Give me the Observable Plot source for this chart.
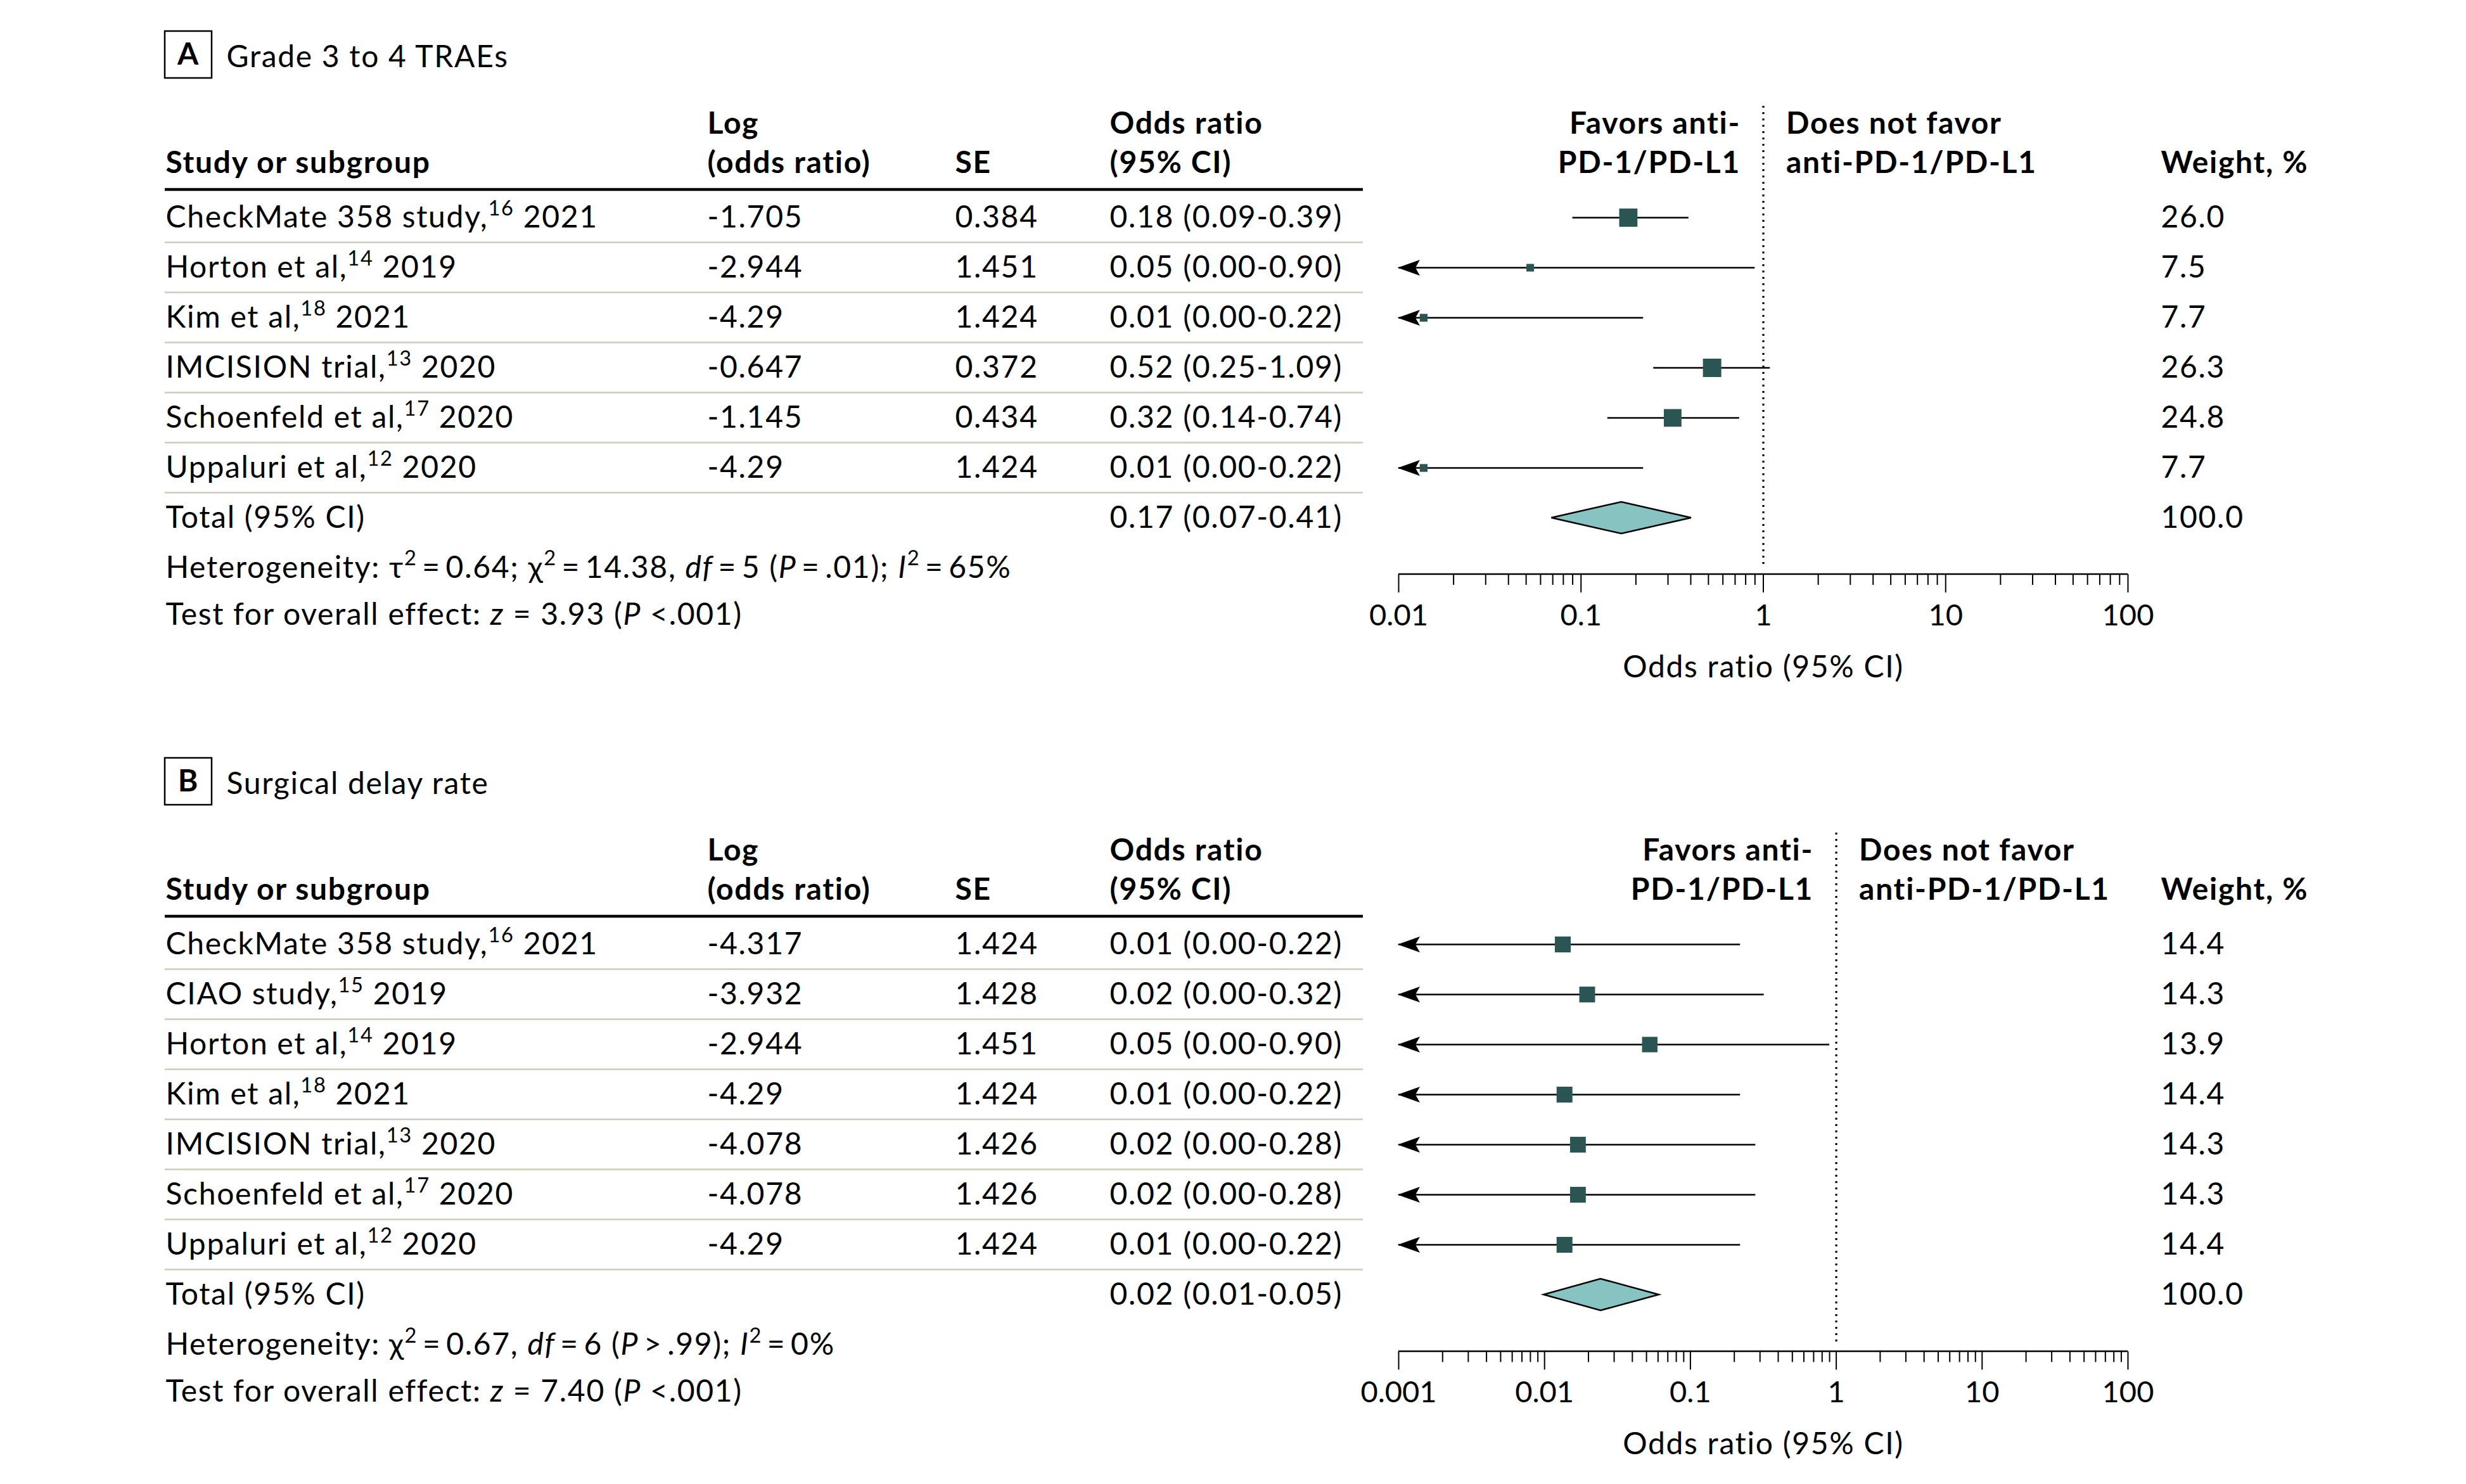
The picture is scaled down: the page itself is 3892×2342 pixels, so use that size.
<!DOCTYPE html>
<html>
<head>
<meta charset="utf-8">
<script src="https://cdn.jsdelivr.net/npm/d3@7"></script>
<script src="https://cdn.jsdelivr.net/npm/@observablehq/plot@0.6"></script>
<style>
  html, body { margin: 0; padding: 0; background: #fff; }
  #chart svg { display: block; }
</style>
</head>
<body>
<div id="chart"></div>
<script>
// ---------------- Data ----------------
// Panel A: Grade 3 to 4 TRAEs
const studiesA = [
  "CheckMate 358 study,{^16} 2021",
  "Horton et al,{^14} 2019",
  "Kim et al,{^18} 2021",
  "IMCISION trial,{^13} 2020",
  "Schoenfeld et al,{^17} 2020",
  "Uppaluri et al,{^12} 2020"
];
const logOrA = [-1.705, -2.944, -4.29, -0.647, -1.145, -4.29];
const seA = [0.384, 1.451, 1.424, 0.372, 0.434, 1.424];
const orCiA = ["0.18 (0.09-0.39)", "0.05 (0.00-0.90)", "0.01 (0.00-0.22)", "0.52 (0.25-1.09)", "0.32 (0.14-0.74)", "0.01 (0.00-0.22)"];
const lowA = [0.09, 0.00, 0.00, 0.25, 0.14, 0.00];
const highA = [0.39, 0.90, 0.22, 1.09, 0.74, 0.22];
const weightA = [26.0, 7.5, 7.7, 26.3, 24.8, 7.7];
const totalDrawnA = [0.167, 0.069, 0.403];          // pooled OR, lower, upper (as drawn)
const totalTextA = "0.17 (0.07-0.41)";
const hetA = "Heterogeneity: τ{^2}\u2009=\u20090.64; χ{^2}\u2009=\u200914.38, {_df}\u2009=\u20095 ({_P}\u2009=\u2009.01); {_I}{^2}\u2009=\u200965%";
const testA = "Test for overall effect: {_z} = 3.93 ({_P} <.001)";
const ticksA = [0.01, 0.1, 1, 10, 100];

// Panel B: Surgical delay rate
const studiesB = [
  "CheckMate 358 study,{^16} 2021",
  "CIAO study,{^15} 2019",
  "Horton et al,{^14} 2019",
  "Kim et al,{^18} 2021",
  "IMCISION trial,{^13} 2020",
  "Schoenfeld et al,{^17} 2020",
  "Uppaluri et al,{^12} 2020"
];
const logOrB = [-4.317, -3.932, -2.944, -4.29, -4.078, -4.078, -4.29];
const seB = [1.424, 1.428, 1.451, 1.424, 1.426, 1.426, 1.424];
const orCiB = ["0.01 (0.00-0.22)", "0.02 (0.00-0.32)", "0.05 (0.00-0.90)", "0.01 (0.00-0.22)", "0.02 (0.00-0.28)", "0.02 (0.00-0.28)", "0.01 (0.00-0.22)"];
const lowB = [0.00, 0.00, 0.00, 0.00, 0.00, 0.00, 0.00];
const highB = [0.22, 0.32, 0.90, 0.22, 0.28, 0.28, 0.22];
const weightB = [14.4, 14.3, 13.9, 14.4, 14.3, 14.3, 14.4];
const totalDrawnB = [0.0243, 0.0099, 0.061];
const totalTextB = "0.02 (0.01-0.05)";
const hetB = "Heterogeneity: χ{^2}\u2009=\u20090.67, {_df}\u2009=\u20096 ({_P}\u2009>\u2009.99); {_I}{^2}\u2009=\u20090%";
const testB = "Test for overall effect: {_z} = 7.40 ({_P} <.001)";
const ticksB = [0.001, 0.01, 0.1, 1, 10, 100];

const TOTAL = "Total (95% CI)";

// ---------------- Layout / style ----------------
const FONT = "Lato, 'Liberation Sans', sans-serif";
const FS = 48;
const TICK_FS = 47;
const LS = "1.7px";
const W = 3892;
const ML = 2207, MR = W - 3358;
const MT = 297;                 // thick header rule
const ROW0 = 341, PITCH = 79.5;
const COL = {study: 261, log: 1116, se: 1507, or: 1751, weight: 3410};
const RULE_X1 = 260, RULE_X2 = 2151;
const SQ = "#2a5553", DIA = "#86c3c1", SEP = "#c9ccbd";

const arrowSymbol = {
  draw(ctx, size) {
    const r = Math.sqrt(size / Math.PI);
    const L = 2.8 * r, hw = 1.0 * r;
    ctx.moveTo(0, 0);
    ctx.lineTo(L, -hw);
    ctx.lineTo(0.8 * L, 0);
    ctx.lineTo(L, hw);
    ctx.closePath();
  }
};

function fixed(s, px, py, opts = {}) {
  return Plot.text([s], {text: d => d, frameAnchor: "top-left", dx: px - ML, dy: py - MT,
    textAnchor: "start", lineAnchor: "bottom", ...opts});
}

function makePanel(p) {
  const n = p.studies.length;
  const names = [...p.studies, TOTAL];
  const lastRow = ROW0 + PITCH * n;
  const axisY = lastRow + 88;
  const H = p.height;
  const MB = H - axisY;
  const dmin = p.ticks[0], dmax = p.ticks[p.ticks.length - 1];
  const rows = p.studies.map((s, i) => ({
    name: s,
    logText: String(p.logOr[i]),
    seText: String(p.se[i]),
    or: Math.exp(p.logOr[i]),
    lo: Math.max(p.low[i], dmin),
    clipped: p.low[i] < dmin,
    hi: p.high[i],
    orText: p.orCi[i],
    w: p.weight[i],
    wText: p.weight[i].toFixed(1)
  }));
  const isMajor = t => p.ticks.some(m => Math.abs(Math.log10(t / m)) < 1e-6);
  const minor = d3.scaleLog().domain([dmin, dmax]).ticks().filter(t => !isMajor(t));
  const [tEst, tLo, tHi] = p.total;

  const colText = (key, col, opts = {}) => Plot.text(rows, {y: "name", text: key, frameAnchor: "left",
    dx: col - ML, textAnchor: "start", ...opts});

  const boxMark = () => d3.create("svg:rect").attr("x", 260).attr("y", 49).attr("width", 74).attr("height", 74)
    .attr("fill", "none").attr("stroke", "black").attr("stroke-width", 2.5).node();

  const rulesMark = (index, scales) => {
    const g = d3.create("svg:g");
    const yTop = scales.y(names[0]) - (ROW0 - MT);
    g.append("line").attr("x1", RULE_X1).attr("x2", RULE_X2).attr("y1", yTop).attr("y2", yTop)
      .attr("stroke", "black").attr("stroke-width", 4.5);
    for (let i = 1; i < names.length; i++) {
      const y = (scales.y(names[i - 1]) + scales.y(names[i])) / 2;
      g.append("line").attr("x1", RULE_X1).attr("x2", RULE_X2).attr("y1", y).attr("y2", y)
        .attr("stroke", SEP).attr("stroke-width", 2.5);
    }
    return g.node();
  };

  const diamondMark = (index, scales) => {
    const y = scales.y(TOTAL);
    const xl = scales.x(tLo), xc = scales.x(tEst), xr = scales.x(tHi);
    return d3.create("svg:path").attr("d", `M${xl},${y}L${xc},${y - 25}L${xr},${y}L${xc},${y + 25}Z`)
      .attr("fill", DIA).attr("stroke", "black").attr("stroke-width", 2.5).attr("stroke-linejoin", "miter").node();
  };

  const axisLineMark = (index, scales, values, dims) => {
    const y = dims.height - dims.marginBottom;
    return d3.create("svg:line").attr("x1", scales.x(dmin)).attr("x2", scales.x(dmax)).attr("y1", y).attr("y2", y)
      .attr("stroke", "black").attr("stroke-width", 2.5).node();
  };

  const favorL = (s, py) => Plot.text([1], {x: d => d, text: () => s, frameAnchor: "top", dx: -36, dy: py - MT,
    textAnchor: "end", lineAnchor: "bottom", fontWeight: "bold"});
  const favorR = (s, py) => Plot.text([1], {x: d => d, text: () => s, frameAnchor: "top", dx: 36, dy: py - MT,
    textAnchor: "start", lineAnchor: "bottom", fontWeight: "bold"});

  const H1 = 210, H2 = 272;

  return Plot.plot({
    width: W, height: H,
    marginLeft: ML, marginRight: MR, marginTop: MT, marginBottom: MB,
    style: {fontFamily: FONT, fontSize: FS + "px", letterSpacing: LS, background: "white", color: "black", overflow: "visible"},
    x: {type: "log", domain: [dmin, dmax], clamp: true, axis: null},
    y: {type: "point", domain: names, range: [ROW0, lastRow], padding: 0, axis: null},
    r: {type: "pow", exponent: 0.7, domain: [0, p.rMax], range: [0, p.side / Math.sqrt(Math.PI)]},
    marks: [
      // panel title
      boxMark,
      fixed(p.letter, 297, 86, {textAnchor: "middle", lineAnchor: "middle", fontWeight: "bold"}),
      fixed(p.title, 357, 105),
      // headers
      fixed("Study or subgroup", COL.study, H2, {fontWeight: "bold"}),
      fixed("Log", COL.log, H1, {fontWeight: "bold"}),
      fixed("(odds ratio)", COL.log, H2, {fontWeight: "bold"}),
      fixed("SE", COL.se, H2, {fontWeight: "bold"}),
      fixed("Odds ratio", COL.or, H1, {fontWeight: "bold"}),
      fixed("(95% CI)", COL.or, H2, {fontWeight: "bold"}),
      fixed("Weight, %", COL.weight, H2, {fontWeight: "bold"}),
      favorL("Favors anti-", H1),
      favorL("PD-1/PD-L1", H2),
      favorR("Does not favor", H1),
      favorR("anti-PD-1/PD-L1", H2),
      // table rules
      rulesMark,
      // table body
      colText("name", COL.study),
      colText("logText", COL.log),
      colText("seText", COL.se),
      colText("orText", COL.or),
      colText("wText", COL.weight),
      Plot.text([TOTAL], {y: d => d, text: d => d, frameAnchor: "left", dx: COL.study - ML, textAnchor: "start"}),
      Plot.text([TOTAL], {y: d => d, text: () => p.totalText, frameAnchor: "left", dx: COL.or - ML, textAnchor: "start"}),
      Plot.text([TOTAL], {y: d => d, text: () => "100.0", frameAnchor: "left", dx: COL.weight - ML, textAnchor: "start"}),
      Plot.text([p.het], {text: d => d, frameAnchor: "bottom-left", dx: COL.study - ML, dy: (lastRow + 93) - axisY, textAnchor: "start"}),
      Plot.text([p.test], {text: d => d, frameAnchor: "bottom-left", dx: COL.study - ML, dy: (lastRow + 167) - axisY, textAnchor: "start"}),
      // null line
      Plot.ruleX([1], {insetTop: -(MT - 167), insetBottom: 9, stroke: "black", strokeWidth: 3.2, strokeDasharray: "3,7"}),
      // CIs
      Plot.ruleY(rows, {y: "name", x1: "lo", x2: "hi", stroke: "black", strokeWidth: 2.4}),
      Plot.dot(rows.filter(d => d.clipped), {x: "lo", y: "name", r: 11.5, symbol: arrowSymbol, fill: "black", stroke: "black", strokeWidth: 1.2}),
      Plot.dot(rows, {x: "or", y: "name", r: "w", symbol: "square", fill: SQ, stroke: "none"}),
      diamondMark,
      // axis
      axisLineMark,
      Plot.axisX(minor, {anchor: "bottom", tickSize: 17, tickFormat: () => "", strokeWidth: 2}),
      Plot.axisX(p.ticks, {anchor: "bottom", tickSize: 29, tickPadding: 18, tickFormat: d => String(d), fontSize: TICK_FS, strokeWidth: 2}),
      Plot.text(["Odds ratio (95% CI)"], {text: d => d, frameAnchor: "bottom", dy: 162, lineAnchor: "bottom"})
    ]
  });
}

function richify(svg) {
  d3.select(svg).selectAll("text").each(function () {
    const t = this.textContent;
    if (!t.includes("{")) return;
    let fs = parseFloat(this.getAttribute("font-size"));
    if (!fs) { const pa = this.parentNode && this.parentNode.getAttribute && parseFloat(this.parentNode.getAttribute("font-size")); fs = pa || FS; }
    const sel = d3.select(this);
    sel.text(null);
    const re = /\{([\^_])([^}]*)\}/g;
    let last = 0, m, raised = false;
    const add = (s, kind) => {
      if (!s) return;
      const ts = sel.append("tspan").text(s);
      if (kind === "^") {
        ts.attr("font-size", fs * 0.68).attr("dy", -0.4 * fs);
        raised = true;
      } else {
        if (raised) { ts.attr("dy", 0.4 * fs); raised = false; }
        if (kind === "_") ts.attr("font-style", "italic");
      }
    };
    while ((m = re.exec(t))) {
      add(t.slice(last, m.index), null);
      add(m[2], m[1]);
      last = re.lastIndex;
    }
    add(t.slice(last), null);
  });
  // tick labels keep natural spacing
  d3.select(svg).selectAll('g[aria-label="x-axis tick label"]').style("letter-spacing", "0px");
}

const panelA = makePanel({
  letter: "A", title: "Grade 3 to 4 TRAEs", height: 1147,
  studies: studiesA, logOr: logOrA, se: seA, orCi: orCiA, low: lowA, high: highA, weight: weightA,
  total: totalDrawnA, totalText: totalTextA, het: hetA, test: testA, ticks: ticksA,
  rMax: 26.3, side: 29
});
const panelB = makePanel({
  letter: "B", title: "Surgical delay rate", height: 2342 - 1147,
  studies: studiesB, logOr: logOrB, se: seB, orCi: orCiB, low: lowB, high: highB, weight: weightB,
  total: totalDrawnB, totalText: totalTextB, het: hetB, test: testB, ticks: ticksB,
  rMax: 14.4, side: 25
});
richify(panelA);
richify(panelB);
const chart = document.getElementById("chart");
chart.appendChild(panelA);
chart.appendChild(panelB);
</script>
</body>
</html>
